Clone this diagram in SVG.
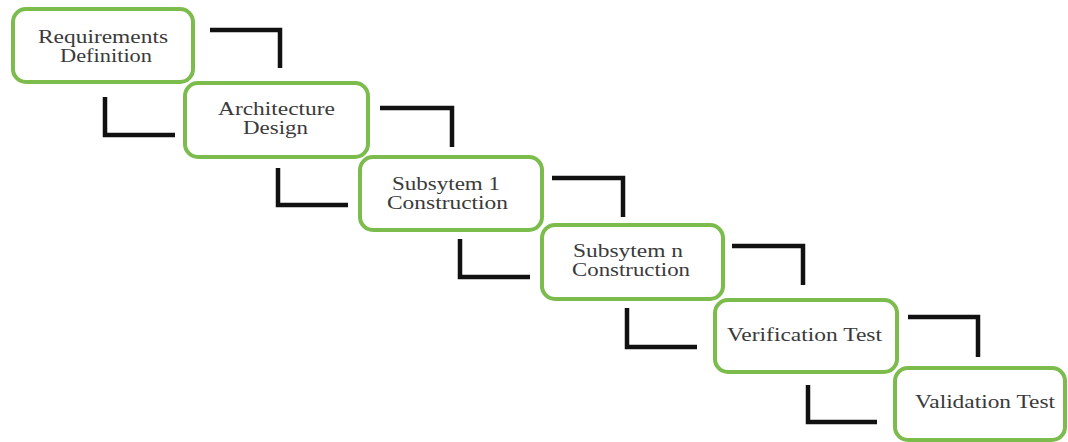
<svg xmlns="http://www.w3.org/2000/svg" width="1068" height="442" viewBox="0 0 1068 442">
  <style>
    .box { fill: #ffffff; stroke: #7cbc4c; stroke-width: 4; }
    .lbl { font-family: "Liberation Serif", "Times New Roman", serif; font-size: 18px; fill: #3a3a3a; text-anchor: middle; }
    .link { fill: none; stroke: #111111; stroke-width: 4.5; stroke-linejoin: miter; }
  </style>
  <rect width="1068" height="442" fill="#ffffff"/>

  <!-- step connectors -->
  <g id="connectors">
    <path class="link" d="M210,30 H280 V68"/>
    <path class="link" d="M105,97 V135 H175"/>
    <path class="link" d="M380,108 H452 V147"/>
    <path class="link" d="M278,168 V205 H348"/>
    <path class="link" d="M552,178 H623 V217"/>
    <path class="link" d="M460,239 V277 H530"/>
    <path class="link" d="M732,246 H803 V285"/>
    <path class="link" d="M627,308 V347 H697"/>
    <path class="link" d="M908,317 H978 V357"/>
    <path class="link" d="M808,385 V422 H877"/>
  </g>

  <g id="requirements">
    <rect class="box" x="13" y="9" width="180" height="73" rx="13"/>
    <text class="lbl" x="103" y="42.5" textLength="130" lengthAdjust="spacingAndGlyphs">Requirements</text>
    <text class="lbl" x="106" y="61.5" textLength="92" lengthAdjust="spacingAndGlyphs">Definition</text>
  </g>

  <g id="architecture">
    <rect class="box" x="185" y="83" width="183" height="74" rx="13"/>
    <text class="lbl" x="276.5" y="114.5" textLength="117" lengthAdjust="spacingAndGlyphs">Architecture</text>
    <text class="lbl" x="275.5" y="133.5" textLength="65" lengthAdjust="spacingAndGlyphs">Design</text>
  </g>

  <g id="subsystem-1">
    <rect class="box" x="360" y="157" width="182" height="73" rx="13"/>
    <text class="lbl" x="446" y="189.5" textLength="108" lengthAdjust="spacingAndGlyphs">Subsytem 1</text>
    <text class="lbl" x="447.5" y="208.5" textLength="121" lengthAdjust="spacingAndGlyphs">Construction</text>
  </g>

  <g id="subsystem-n">
    <rect class="box" x="542" y="225" width="181" height="74" rx="13"/>
    <text class="lbl" x="628" y="256.5" textLength="110" lengthAdjust="spacingAndGlyphs">Subsytem n</text>
    <text class="lbl" x="631" y="275.5" textLength="118" lengthAdjust="spacingAndGlyphs">Construction</text>
  </g>

  <g id="verification">
    <rect class="box" x="715" y="300" width="182" height="72" rx="13"/>
    <text class="lbl" x="804.5" y="341" textLength="155" lengthAdjust="spacingAndGlyphs">Verification Test</text>
  </g>

  <g id="validation">
    <rect class="box" x="895" y="368" width="170" height="72" rx="13"/>
    <text class="lbl" x="985" y="408" textLength="140" lengthAdjust="spacingAndGlyphs">Validation Test</text>
  </g>
</svg>
